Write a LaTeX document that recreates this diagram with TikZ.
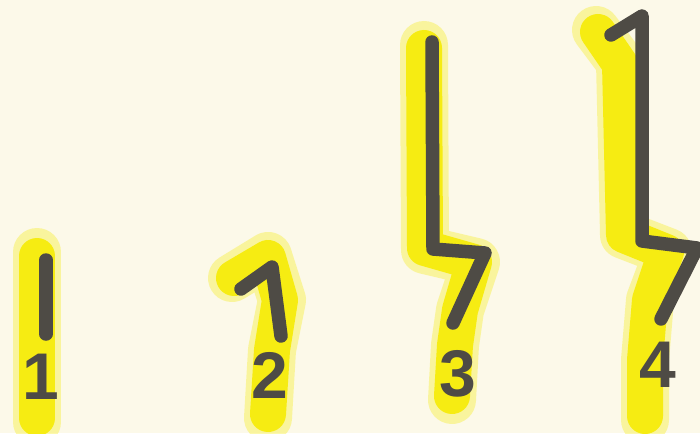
\documentclass[tikz,border=0pt]{standalone}
\usepackage{fontspec}
\setmainfont{Liberation Sans}
\usepackage{xcolor}
\usepackage{tikz}
\definecolor{paper}{HTML}{FCF9E9}
\definecolor{marker}{HTML}{F6EC12}
\definecolor{ink}{HTML}{4E4B45}

\begin{document}
\begin{tikzpicture}[x=1pt, y=-1pt,
  glow/.style={draw=marker, line width=48, line cap=round, line join=round, opacity=0.35},
  hilite/.style={draw=marker, line width=36, line cap=round, line join=round},
  pen/.style={draw=ink, line width=13.5, line cap=round, line join=round},
  digit/.style={text=ink, font=\fontsize{66}{66}\selectfont\bfseries, inner sep=0pt}
]
\fill[paper] (0,0) rectangle (700,433);
\useasboundingbox (0,0) rectangle (700,433);

% yellow marker behind each sign
\draw[glow] (37,252) -- (37,422);
\draw[hilite] (37,256) -- (37,418);
\draw[glow] (232,278) -- (268,256) -- (282,300) -- (272,350) -- (268,418);
\draw[hilite] (234,278) -- (268,258) -- (280,300) -- (272,350) -- (268,414);
\draw[glow] (424,45) -- (425,250) -- (476,262) -- (460,310) -- (455,345) -- (452,400);
\draw[hilite] (424,48) -- (425,248) -- (474,262) -- (460,310) -- (455,345) -- (452,396);
\draw[glow] (596,30) -- (620,62) -- (624,235) -- (668,252) -- (650,300) -- (645,360) -- (645,420);
\draw[hilite] (598,32) -- (620,64) -- (624,235) -- (666,252) -- (650,300) -- (645,360) -- (645,416);

% strokes
\draw[pen] (46,260) -- (46,334);
\draw[pen] (241,289) -- (272,267) -- (281,336);
\draw[pen] (432,42) -- (433,249) -- (485,253) -- (453,323);
\draw[pen] (611,35) -- (642,16) -- (642,241) -- (697,248) -- (661,319);

\node[digit] (lab1) at (41,377) {1};
\node[digit] (lab2) at (270,375) {2};
\node[digit] (lab3) at (458,374) {3};
\node[digit] (lab4) at (658,365) {4};
\end{tikzpicture}
\end{document}
